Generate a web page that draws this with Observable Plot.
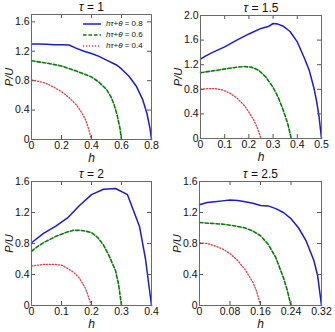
<!DOCTYPE html>
<html><head><meta charset="utf-8">
<script src="https://cdn.jsdelivr.net/npm/d3@7"></script>
<script src="https://cdn.jsdelivr.net/npm/@observablehq/plot@0.6"></script>
<style>
body{margin:0;background:#fff}
#wrap{position:relative;width:335px;height:332px;font-family:"Liberation Sans",Arial,sans-serif;overflow:hidden}
.panel{position:absolute}
.legend{position:absolute;font-size:8px;color:#111;line-height:11px}
.legend .row{display:flex;align-items:center;height:11px}
.legend i{font-style:italic}
</style>
</head><body><div id="wrap"></div>
<script>
// ---------- data ----------
const seriesKeys = ["0.8", "0.6", "0.4"];

// tau = 1
const t1_h08 = [0,0.05,0.1,0.15,0.2,0.25,0.3,0.35,0.4,0.45,0.5,0.55,0.57,0.6,0.65,0.7,0.74,0.77,0.79,0.8];
const t1_p08 = [1.30,1.30,1.295,1.29,1.29,1.285,1.24,1.20,1.17,1.13,1.08,1.03,1.01,0.96,0.86,0.72,0.55,0.35,0.15,0];
const t1_h06 = [0,0.1,0.2,0.3,0.4,0.45,0.5,0.53,0.55,0.57,0.59,0.6];
const t1_p06 = [1.07,1.04,1.0,0.93,0.85,0.78,0.68,0.58,0.48,0.34,0.15,0];
const t1_h04 = [0,0.05,0.1,0.15,0.2,0.25,0.3,0.33,0.36,0.38,0.4];
const t1_p04 = [0.81,0.79,0.76,0.71,0.65,0.57,0.47,0.38,0.27,0.15,0];

// tau = 1.5
const t2_h08 = [0,0.02,0.05,0.1,0.15,0.2,0.25,0.28,0.3,0.32,0.34,0.37,0.4,0.43,0.45,0.47,0.48,0.49,0.5];
const t2_p08 = [1.29,1.34,1.40,1.49,1.60,1.70,1.79,1.82,1.87,1.86,1.83,1.74,1.57,1.30,1.10,0.80,0.60,0.35,0];
const t2_h06 = [0,0.05,0.1,0.15,0.18,0.21,0.24,0.27,0.3,0.32,0.34,0.36,0.375];
const t2_p06 = [1.07,1.10,1.13,1.16,1.17,1.16,1.11,1.00,0.83,0.68,0.48,0.25,0];
const t2_h04 = [0,0.03,0.06,0.09,0.12,0.15,0.18,0.2,0.22,0.235,0.25];
const t2_p04 = [0.80,0.81,0.81,0.79,0.74,0.66,0.54,0.43,0.30,0.17,0];

// tau = 2
const t3_h08 = [0,0.04,0.08,0.12,0.16,0.2,0.24,0.28,0.32,0.36,0.38,0.4];
const t3_p08 = [0.81,0.93,1.02,1.13,1.29,1.43,1.50,1.51,1.43,1.02,0.6,0];
const t3_h06 = [0,0.02,0.04,0.06,0.08,0.1,0.12,0.14,0.16,0.18,0.2,0.22,0.24,0.26,0.28,0.29,0.3];
const t3_p06 = [0.70,0.76,0.81,0.85,0.89,0.92,0.95,0.97,0.97,0.96,0.94,0.88,0.78,0.63,0.45,0.28,0];
const t3_h04 = [0,0.04,0.08,0.1,0.12,0.14,0.16,0.18,0.2];
const t3_p04 = [0.51,0.53,0.53,0.52,0.48,0.43,0.35,0.22,0];

// tau = 2.5
const t4_h08 = [0,0.02,0.04,0.06,0.08,0.1,0.12,0.14,0.16,0.18,0.2,0.22,0.24,0.26,0.28,0.3,0.31,0.32];
const t4_p08 = [1.30,1.33,1.34,1.35,1.36,1.355,1.34,1.32,1.29,1.285,1.25,1.20,1.12,1.00,0.83,0.58,0.38,0];
const t4_h06 = [0,0.03,0.06,0.09,0.12,0.14,0.16,0.18,0.2,0.22,0.23,0.24];
const t4_p06 = [1.07,1.06,1.05,1.03,1.0,0.96,0.90,0.79,0.62,0.36,0.2,0];
const t4_h04 = [0,0.02,0.04,0.06,0.08,0.1,0.12,0.13,0.14,0.15,0.16];
const t4_p04 = [0.81,0.80,0.77,0.73,0.67,0.58,0.46,0.38,0.30,0.18,0];

// titles and ticks
const titles = ["1", "1.5", "2", "2.5"];
const xTicks1 = [0,0.2,0.4,0.6,0.8];       const xLabels1 = ["0","0.2","0.4","0.6","0.8"];
const xTicks2 = [0,0.1,0.2,0.3,0.4,0.5];   const xLabels2 = ["0","0.1","0.2","0.3","0.4","0.5"];
const xTicks3 = [0,0.1,0.2,0.3,0.4];       const xLabels3 = ["0","0.1","0.2","0.3","0.4"];
const xTicks4 = [0,0.08,0.16,0.24,0.32];   const xLabels4 = ["0","0.08","0.16","0.24","0.32"];
const yTicksA = [0,0.4,0.8,1.2,1.6];       const yLabelsA = ["0","0.4","0.8","1.2","1.6"];
const yTicksB = [0,0.4,0.8,1.2,1.6,2.0];   const yLabelsB = ["0","0.4","0.8","1.2","1.6","2.0"];

// ---------- styling ----------
const styles = {
  "0.8": {stroke:"#1c1ccc", width:1.5, dash:null},
  "0.6": {stroke:"#0a7a0a", width:1.6, dash:"3.5,2"},
  "0.4": {stroke:"#e23a40", width:1.3, dash:"1.2,1.8"}
};

const panels = [
  {title:titles[0], left:0,   top:0,   width:167, height:166, ml:31, mr:16, mt:14, mb:27,
   xd:[0,0.8], yd:[0,1.7], xt:xTicks1, xl:xLabels1, yt:yTicksA, yl:yLabelsA,
   s:[[t1_h08,t1_p08],[t1_h06,t1_p06],[t1_h04,t1_p04]], legend:true},
  {title:titles[1], left:167, top:0,   width:168, height:166, ml:33, mr:14, mt:15, mb:28,
   xd:[0,0.5], yd:[0,2.0], xt:xTicks2, xl:xLabels2, yt:yTicksB, yl:yLabelsB,
   s:[[t2_h08,t2_p08],[t2_h06,t2_p06],[t2_h04,t2_p04]]},
  {title:titles[2], left:0,   top:166, width:167, height:166, ml:31, mr:16, mt:15, mb:27,
   xd:[0,0.4], yd:[0,1.6], xt:xTicks3, xl:xLabels3, yt:yTicksA, yl:yLabelsA,
   s:[[t3_h08,t3_p08],[t3_h06,t3_p06],[t3_h04,t3_p04]]},
  {title:titles[3], left:167, top:166, width:168, height:166, ml:32, mr:14, mt:15, mb:27,
   xd:[0,0.32], yd:[0,1.6], xt:xTicks4, xl:xLabels4, yt:yTicksA, yl:yLabelsA,
   s:[[t4_h08,t4_p08],[t4_h06,t4_p06],[t4_h04,t4_p04]]}
];

const wrap = document.getElementById("wrap");
const tickColor = "#555";

panels.forEach(cfg => {
  const innerH = cfg.height - cfg.mt - cfg.mb;
  const innerW = cfg.width - cfg.ml - cfg.mr;
  const lineMarks = cfg.s.map(([hs, ps], k) => {
    const key = seriesKeys[k];
    const st = styles[key];
    const rows = hs.map((h, i) => ({h, p: ps[i]}));
    const o = {x:"h", y:"p", stroke:st.stroke, strokeWidth:st.width, curve:"linear"};
    if (st.dash) o.strokeDasharray = st.dash;
    return Plot.line(rows, o);
  });
  const svg = Plot.plot({
    width: cfg.width, height: cfg.height,
    marginLeft: cfg.ml, marginRight: cfg.mr, marginTop: cfg.mt, marginBottom: cfg.mb,
    x: {domain: cfg.xd},
    y: {domain: cfg.yd},
    style: {fontFamily:'"Liberation Sans", Arial, sans-serif', fontSize:"10.5px", color:"#111", background:"transparent"},
    marks: [
      ...lineMarks.reverse(),
      Plot.tickX(cfg.xt, {x: d => d, insetTop: innerH - 4, stroke: tickColor}),
      Plot.tickX(cfg.xt, {x: d => d, insetBottom: innerH - 4, stroke: tickColor}),
      Plot.tickY(cfg.yt, {y: d => d, insetRight: innerW - 4, stroke: tickColor}),
      Plot.tickY(cfg.yt, {y: d => d, insetLeft: innerW - 4, stroke: tickColor}),
      Plot.frame({stroke:"#6a6a6a", strokeWidth:1}),
      Plot.axisX(cfg.xt, {tickSize:0, tickPadding:2, label:null, fill:"#111",
        tickFormat: d => cfg.xl[cfg.xt.indexOf(d)]}),
      Plot.axisY(cfg.yt, {tickSize:0, tickPadding:2, label:null, fill:"#111",
        tickFormat: d => cfg.yl[cfg.yt.indexOf(d)]}),
      Plot.text(["h"], {frameAnchor:"bottom", lineAnchor:"middle", dy:19, fontStyle:"italic", fontSize:12, fill:"#111"}),
      Plot.text(["P/U"], {frameAnchor:"left", textAnchor:"middle", lineAnchor:"middle", dx:-22, rotate:-90, fontStyle:"italic", fontSize:11, fill:"#111"}),
      Plot.text(["τ = " + cfg.title], {frameAnchor:"top", lineAnchor:"middle", dy:-7, fontSize:12, fill:"#111"})
    ]
  });
  // italicize tau in title
  d3.select(svg).selectAll("text").each(function() {
    const t = this.textContent;
    if (t.startsWith("τ = ")) {
      const rest = t.slice(1);
      this.textContent = "";
      d3.select(this).append("tspan").attr("font-style","italic").text("τ");
      d3.select(this).append("tspan").text(rest);
    }
  });
  const div = document.createElement("div");
  div.className = "panel";
  div.style.left = cfg.left + "px";
  div.style.top = cfg.top + "px";
  div.appendChild(svg);
  wrap.appendChild(div);

  if (cfg.legend) {
    const lg = document.createElement("div");
    lg.className = "legend";
    lg.style.left = "82px";
    lg.style.top = "18px";
    seriesKeys.forEach(key => {
      const st = styles[key];
      const row = document.createElement("div");
      row.className = "row";
      row.innerHTML = `<svg width="20" height="11" style="margin-right:4px"><line x1="1" x2="19" y1="6" y2="6" stroke="${st.stroke}" stroke-width="${st.width}" ${st.dash ? `stroke-dasharray="${st.dash}"` : ""}/></svg><span><i>hτ</i>+<i>θ</i> = ${key}</span>`;
      lg.appendChild(row);
    });
    wrap.appendChild(lg);
  }
});
</script>
</body></html>
